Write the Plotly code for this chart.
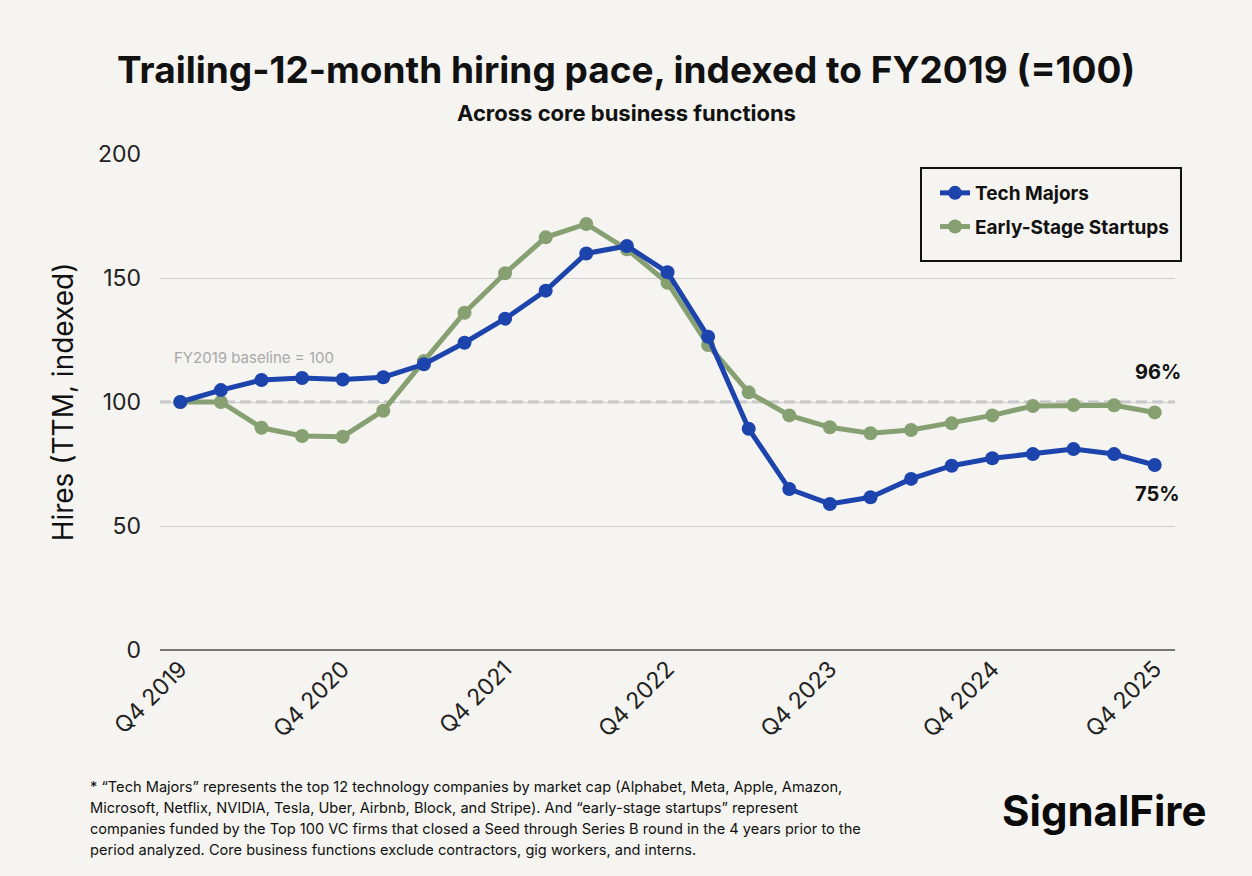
import plotly.graph_objects as go

# quarterly points, Q4 2019 .. Q4 2025
quarters = list(range(25))
tick_pos = [0, 4, 8, 12, 16, 20, 24]
tick_labels = ["Q4 2019", "Q4 2020", "Q4 2021", "Q4 2022", "Q4 2023", "Q4 2024", "Q4 2025"]

tech_majors = [100, 104.8, 108.9, 109.7, 109.1, 110, 115.2, 123.9, 133.6, 144.9, 159.9, 162.9,
               152.3, 126.3, 89.2, 64.9, 58.9, 61.6, 69, 74.3, 77.3, 79, 81, 79, 74.6]
startups = [100, 100, 89.6, 86.3, 86, 96.5, 116.5, 136, 151.9, 166.4, 171.8, 161.6,
            148.1, 123, 103.9, 94.6, 89.8, 87.4, 88.7, 91.4, 94.6, 98.4, 98.8, 98.7, 95.8]

BLUE = "#1d44ad"
GREEN = "#86a072"
BG = "#f5f4f0"
FONT = "Inter"

# plot box in page pixels
L, R, T, B = 160, 1175, 154, 650
W, H = R - L, B - T


def px_x(x):
    return (x - L) / W


def px_y(y):
    return (B - y) / H


fig = go.Figure()

# baseline
fig.add_shape(type="line", xref="paper", x0=0, x1=1, y0=100, y1=100,
              line=dict(color="#c3c3c3", width=3, dash="11px,5px"), layer="below")
# legend frame
fig.add_shape(type="rect", xref="paper", yref="paper",
              x0=px_x(921), x1=px_x(1181), y0=px_y(261), y1=px_y(168),
              line=dict(color="#111", width=2), fillcolor=BG, layer="below")

fig.add_trace(go.Scatter(x=quarters, y=startups, mode="lines+markers", name="Early-Stage Startups",
                         line=dict(color=GREEN, width=5), marker=dict(size=14, color=GREEN),
                         legendrank=2, legendgroup="b"))
fig.add_trace(go.Scatter(x=quarters, y=tech_majors, mode="lines+markers", name="Tech Majors",
                         line=dict(color=BLUE, width=5), marker=dict(size=14, color=BLUE),
                         legendrank=1, legendgroup="a"))

# end labels
fig.add_annotation(x=quarters[-1], y=startups[-1], text="<b>96%</b>", showarrow=False,
                   yshift=40, xshift=3, font=dict(family=FONT, size=20, color="#111"))
fig.add_annotation(x=quarters[-1], y=tech_majors[-1], text="<b>75%</b>", showarrow=False,
                   yshift=-29, xshift=3, font=dict(family=FONT, size=20, color="#111"))

fig.add_annotation(x=-0.2, y=100, text="FY2019 baseline = 100", showarrow=False,
                   xanchor="left", yanchor="bottom", yshift=33,
                   font=dict(family=FONT, size=15, color="#a8a8a8"))

# title + subtitle
fig.add_annotation(xref="paper", yref="paper", x=px_x(626), y=px_y(70), yanchor="middle",
                   text="<b>Trailing-12-month hiring pace, indexed to FY2019 (=100)</b>",
                   showarrow=False, font=dict(family=FONT, size=37, color="#111"))
fig.add_annotation(xref="paper", yref="paper", x=px_x(626), y=px_y(113), yanchor="middle",
                   text="<b>Across core business functions</b>", showarrow=False,
                   font=dict(family=FONT, size=22, color="#111"))

footnote = ["* \u201cTech Majors\u201d represents the top 12 technology companies by market cap (Alphabet, Meta, Apple, Amazon,",
            "Microsoft, Netflix, NVIDIA, Tesla, Uber, Airbnb, Block, and Stripe). And \u201cearly-stage startups\u201d represent",
            "companies funded by the Top 100 VC firms that closed a Seed through Series B round in the 4 years prior to the",
            "period analyzed. Core business functions exclude contractors, gig workers, and interns."]
for i, line in enumerate(footnote):
    fig.add_annotation(xref="paper", yref="paper", x=px_x(88), y=px_y(787 + 21 * i),
                       xanchor="left", yanchor="middle", align="left", text=line, showarrow=False,
                       font=dict(family=FONT, size=14.6, color="#111"))
fig.add_annotation(xref="paper", yref="paper", x=px_x(1208), y=px_y(810),
                   xanchor="right", yanchor="middle", text="<b>SignalFire</b>", showarrow=False,
                   font=dict(family=FONT, size=42, color="#0a0a0a"))

fig.update_layout(
    width=1252, height=876,
    paper_bgcolor=BG, plot_bgcolor=BG,
    margin=dict(l=L, r=1252 - R, t=T, b=876 - B),
    font=dict(family=FONT, color="#222"),
    showlegend=True,
    legend=dict(x=px_x(935), y=px_y(174), xanchor="left", yanchor="top",
                bgcolor="rgba(0,0,0,0)", borderwidth=0,
                font=dict(family=FONT, size=19, color="#111", weight="bold"),
                itemwidth=30, tracegroupgap=6),
    xaxis=dict(range=[-0.5, 24.5], tickmode="array", tickvals=tick_pos, ticktext=tick_labels,
               tickangle=-45, tickfont=dict(size=23, color="#222"), showgrid=False,
               zeroline=False, showline=False, ticks=""),
    yaxis=dict(range=[0, 200], tickvals=[0, 50, 100, 150, 200], showgrid=True,
               gridcolor="#cfcfcf", gridwidth=1, zeroline=True, zerolinecolor="#777",
               zerolinewidth=1.5, tickfont=dict(size=23, color="#222"), ticks="",
               ticklabelstandoff=18,
               title=dict(text="Hires (TTM, indexed)", font=dict(size=28, color="#111"), standoff=16)),
)

fig.write_html("out.html", config={"displayModeBar": False},
               post_script="document.body.style.margin='0';")
